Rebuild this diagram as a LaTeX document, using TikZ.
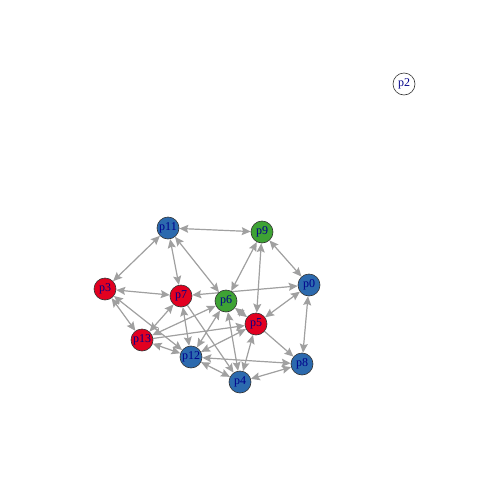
\documentclass[tikz,border=0pt]{standalone}
\usepackage{fontspec}
\setmainfont{Liberation Serif}
\usetikzlibrary{arrows.meta,backgrounds}
\definecolor{nodered}{RGB}{226,0,32}
\definecolor{nodeblue}{RGB}{44,106,174}
\definecolor{nodegreen}{RGB}{62,163,52}
\definecolor{edgegray}{RGB}{160,160,160}
\definecolor{labelblue}{RGB}{0,0,139}
\begin{document}
\begin{tikzpicture}[x=1pt,y=-1pt,->,>={Stealth[length=9pt,width=8pt,inset=1.5pt]},
  main node/.style={circle,draw=black!80,line width=0.6pt,minimum size=22pt,inner sep=0pt,
    text=labelblue,font=\fontsize{12}{12}\selectfont},
  red node/.style={main node,fill=nodered},
  blue node/.style={main node,fill=nodeblue},
  green node/.style={main node,fill=nodegreen},
  every edge/.style={draw=edgegray,fill=edgegray,line width=1.2pt}]

\useasboundingbox (0,0) rectangle (480,480);

\node[blue node](p11) at (168,228) {p11};
\node[green node](p9) at (262,232) {p9};
\node[blue node](p0) at (309,285) {p0};
\node[red node](p3) at (105,289) {p3};
\node[red node](p7) at (181,296) {p7};
\node[green node](p6) at (226,301) {p6};
\node[red node](p5) at (256,324) {p5};
\node[red node](p13) at (142,340) {p13};
\node[blue node](p12) at (191,357) {p12};
\node[blue node](p8) at (302,364) {p8};
\node[blue node](p4) at (240,382) {p4};
\node[main node,fill=white](p2) at (404,84) {p2};

\begin{pgfonlayer}{background}
\path
(p11) edge[<->] (p9)
(p11) edge[<->] (p3)
(p11) edge[<->] (p7)
(p11) edge[<->] (p6)
(p9) edge[<->] (p6)
(p9) edge[<->] (p0)
(p9) edge[<->] (p5)
(p7) edge[<->] (p0)
(p3) edge[<->] (p7)
(p3) edge[<->] (p13)
(p3) edge[<->] (p12)
(p13) edge[<->] (p7)
(p13) edge[<->] (p6)
(p13) edge[<->] (p12)
(p13) edge (p5)
(p7) edge[<->] (p12)
(p7) edge (p4)
(p6) edge[<->] (p12)
(p6) edge[<->] (p4)
(p6) edge[<->] (p5)
(p5) edge[<->] (p0)
(p5) edge (p8)
(p5) edge[<->] (p4)
(p12) edge[<->] (p5)
(p12) edge[<->] (p4)
(p0) edge[<->] (p8)
(p8) edge[<->] (p4)
(p8) edge[<->] (p12);
\end{pgfonlayer}
\end{tikzpicture}
\end{document}
